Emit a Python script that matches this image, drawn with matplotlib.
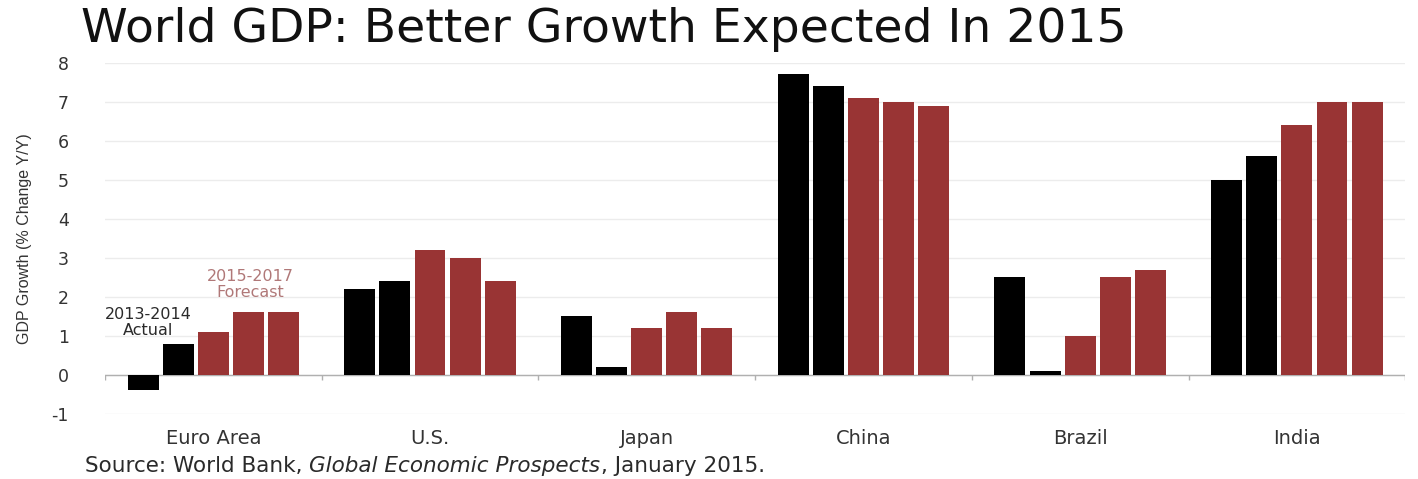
import numpy as np
import matplotlib
matplotlib.use("Agg")
import matplotlib.pyplot as plt

plt.rcParams["axes.unicode_minus"] = False

# GDP growth, % change Y/Y: 2013, 2014 actual, 2015-2017 forecast
regions = ["Euro Area", "U.S.", "Japan", "China", "Brazil", "India"]
years = ["2013", "2014", "2015", "2016", "2017"]
growth = {
    "Euro Area": [-0.4, 0.8, 1.1, 1.6, 1.6],
    "U.S.":      [2.2, 2.4, 3.2, 3.0, 2.4],
    "Japan":     [1.5, 0.2, 1.2, 1.6, 1.2],
    "China":     [7.7, 7.4, 7.1, 7.0, 6.9],
    "Brazil":    [2.5, 0.1, 1.0, 2.5, 2.7],
    "India":     [5.0, 5.6, 6.4, 7.0, 7.0],
}
n_actual = 2

black = "#000000"
red = "#993434"

fig = plt.figure(figsize=(14.18, 4.79), dpi=100)
ax = fig.add_axes([0.074, 0.136, 0.917, 0.733])

x = np.arange(len(regions))
width = 0.162
for j, yr in enumerate(years):
    vals = [growth[r][j] for r in regions]
    col = black if j < n_actual else red
    ax.bar(x + (j - 2) * width, vals, width * 0.88, color=col, zorder=3)

ax.set_xlim(-0.5, len(regions) - 0.5)
ax.set_ylim(-1, 8)
ax.set_yticks(range(-1, 9))
ax.grid(axis="y", color="#ececec", linewidth=1, zorder=0)
for s in ax.spines.values():
    s.set_visible(False)

# zero line with small ticks between regions
ax.axhline(0, color="#b0b0b0", linewidth=1, zorder=2)
ax.vlines(np.arange(len(regions) + 1) - 0.5, -0.12, 0, color="#b0b0b0", linewidth=1, zorder=2)

ax.set_xticks(x)
ax.set_xticklabels(regions, fontsize=14, color="#333333")
ax.tick_params(axis="x", length=0, pad=11)
ax.tick_params(axis="y", length=0, pad=26, labelsize=12.5, labelcolor="#333333")
ax.set_ylabel("GDP Growth (% Change Y/Y)", family="Liberation Sans",
              fontsize=11.5, color="#333333", labelpad=14)

ax.text(-0.3, 0.95, "2013-2014\nActual", ha="center", va="bottom",
        fontsize=11.5, color="#2a2a2a", linespacing=1.05)
ax.text(0.17, 1.92, "2015-2017\nForecast", ha="center", va="bottom",
        fontsize=11.5, color="#b07878", linespacing=1.05)

fig.text(0.057, 0.938, "World GDP: Better Growth Expected In 2015",
         fontsize=34, color="#111111", va="center", ha="left")

src = [("Source: World Bank, ", "normal"), ("Global Economic Prospects", "italic"),
       (", January 2015.", "normal")]
xpos = 0.06
r = fig.canvas.get_renderer()
for s, st in src:
    t = fig.text(xpos, 0.027, s, fontsize=15.5, color="#2a2a2a", style=st, va="center")
    bb = t.get_window_extent(renderer=r)
    xpos += bb.width / fig.bbox.width

fig.savefig("out.png", dpi=100)
